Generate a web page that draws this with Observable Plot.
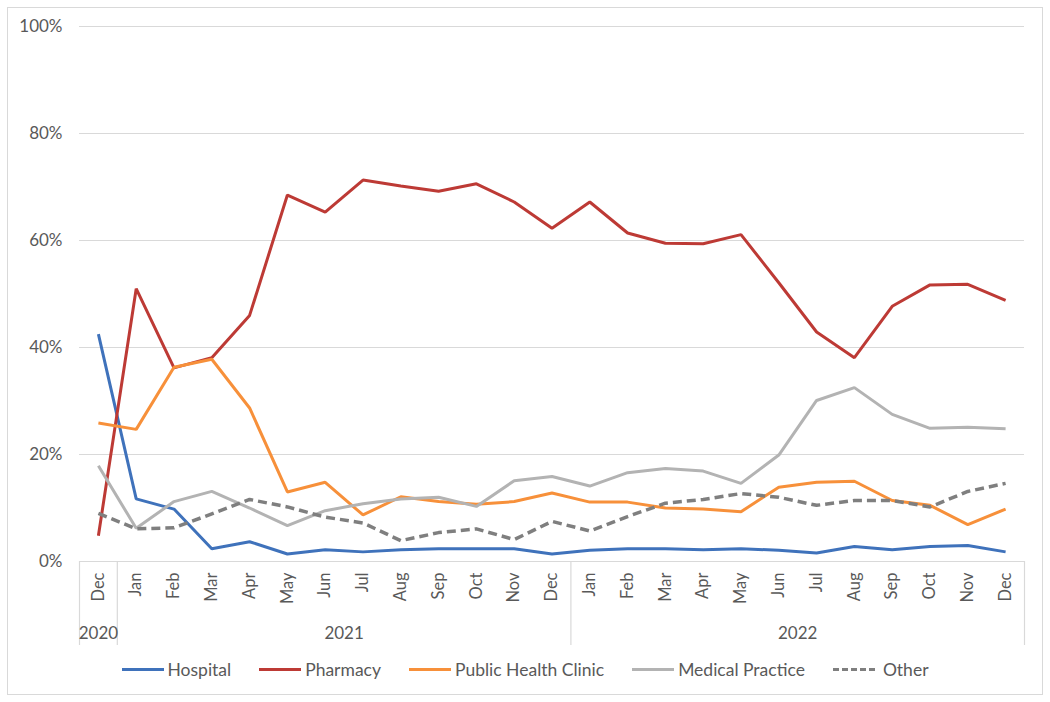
<!DOCTYPE html>
<html>
<head>
<meta charset="utf-8">
<script src="https://cdn.jsdelivr.net/npm/d3@7"></script>
<script src="https://cdn.jsdelivr.net/npm/@observablehq/plot@0.6"></script>
<style>
  html, body { margin: 0; padding: 0; background: #fff; }
  body { width: 1050px; height: 702px; position: relative; overflow: hidden; font-family: Lato, "Open Sans", sans-serif; }
  #frame { position: absolute; left: 7px; top: 7px; width: 1036px; height: 688px; border: 1px solid #d9d9d9; box-sizing: border-box; }
  #chart { position: absolute; left: 0; top: 0; }
  #legend { position: absolute; left: 0; top: 659px; width: 1050px; display: flex; justify-content: center; align-items: center; font-size: 17.5px; color: #595959; }
  .item { display: flex; align-items: center; margin: 0 14px; }
  .sw { width: 42px; height: 0; margin-right: 4px; }
</style>
</head>
<body>
<div id="frame"></div>
<div id="chart"></div>
<div id="legend"></div>
<script>
const months = ["Dec","Jan","Feb","Mar","Apr","May","Jun","Jul","Aug","Sep","Oct","Nov","Dec",
                "Jan","Feb","Mar","Apr","May","Jun","Jul","Aug","Sep","Oct","Nov","Dec"];
const years = ["2020","2021","2022"];
const yearFirstIndex = [0, 1, 13];
const yearLastIndex = [0, 12, 24];

const seriesNames = ["Hospital","Pharmacy","Public Health Clinic","Medical Practice","Other"];
const seriesColors = ["#3f72bb","#bd3a35","#f7903a","#b3b3b3","#7f7f7f"];

const hospital = [42.5,11.7,9.8,2.4,3.7,1.4,2.2,1.8,2.2,2.4,2.4,2.4,1.4,
                  2.1,2.4,2.4,2.2,2.4,2.1,1.6,2.8,2.2,2.8,3.0,1.8];
const pharmacy = [4.8,51.0,36.2,38.1,46.0,68.5,65.3,71.3,70.2,69.2,70.6,67.2,62.3,
                  67.2,61.4,59.5,59.4,61.1,52.1,42.9,38.1,47.7,51.7,51.8,48.8];
const publicHealth = [25.9,24.7,36.3,37.8,28.7,13.0,14.8,8.7,12.1,11.2,10.7,11.2,12.8,
                      11.1,11.1,10.0,9.8,9.3,13.9,14.8,15.0,11.4,10.5,6.9,9.8];
const medicalPractice = [17.9,6.2,11.2,13.1,10.0,6.7,9.5,10.8,11.7,12.0,10.3,15.1,15.9,
                         14.1,16.6,17.4,16.9,14.6,19.9,30.1,32.5,27.5,24.9,25.1,24.8];
const other = [9.0,6.1,6.3,8.9,11.6,10.2,8.3,7.2,3.9,5.4,6.1,4.1,7.5,
               5.7,8.4,10.9,11.6,12.7,12.0,10.5,11.4,11.4,10.2,13.1,14.6];

const yTicks = [0, 0.2, 0.4, 0.6, 0.8, 1.0];

const allSeries = [hospital, pharmacy, publicHealth, medicalPractice, other];
const rows = [];
allSeries.forEach((vals, s) => vals.forEach((v, i) => rows.push({series: seriesNames[s], i, value: v / 100})));

const yBottom = -0.157;
const separators = [-0.5, ...yearLastIndex.map(i => i + 0.5)];
const yearRows = years.map((y, k) => ({year: y, x: (yearFirstIndex[k] + yearLastIndex[k]) / 2}));

const font = "Lato, 'Open Sans', sans-serif";
const txt = "#595959";

const chart = Plot.plot({
  width: 1050,
  height: 650,
  marginLeft: 79,
  marginRight: 26,
  marginTop: 26,
  marginBottom: 5,
  style: {fontFamily: font, background: "transparent"},
  x: {type: "linear", domain: [-0.5, months.length - 0.5], axis: null},
  y: {type: "linear", domain: [yBottom, 1], axis: null},
  color: {domain: seriesNames, range: seriesColors},
  marks: [
    Plot.ruleY(yTicks, {y: d => d, stroke: "#d9d9d9", strokeWidth: 1.2}),
    Plot.text(yTicks, {y: d => d, frameAnchor: "left", dx: -17, textAnchor: "end", text: d => d3.format(".0%")(d), fill: txt, fontSize: 17}),
    Plot.ruleX(separators, {x: d => d, y1: yBottom, y2: 0, stroke: "#d9d9d9", strokeWidth: 1.2}),
    Plot.text(months, {x: (d, i) => i, y: 0, text: d => d, rotate: -90, textAnchor: "end", dy: 11, fill: txt, fontSize: 16.5}),
    Plot.text(yearRows, {x: "x", y: 0, text: "year", dy: 72, fill: txt, fontSize: 17}),
    Plot.line(rows.filter(r => r.series !== "Other"), {x: "i", y: "value", z: "series", stroke: "series", strokeWidth: 3, strokeLinejoin: "miter", strokeLinecap: "butt"}),
    Plot.line(rows.filter(r => r.series === "Other"), {x: "i", y: "value", stroke: "series", strokeWidth: 3.5, strokeDasharray: "9,5", strokeLinecap: "butt"})
  ]
});
document.getElementById("chart").appendChild(chart);

const legend = document.getElementById("legend");
seriesNames.forEach((name, k) => {
  const item = document.createElement("div");
  item.className = "item";
  const sw = document.createElement("span");
  sw.className = "sw";
  sw.style.borderTop = (name === "Other" ? "3.5px dashed " : "3.5px solid ") + seriesColors[k];
  const label = document.createElement("span");
  label.textContent = name;
  if (name === "Other") label.style.marginLeft = "4px";
  item.appendChild(sw);
  item.appendChild(label);
  legend.appendChild(item);
});
</script>
</body>
</html>
